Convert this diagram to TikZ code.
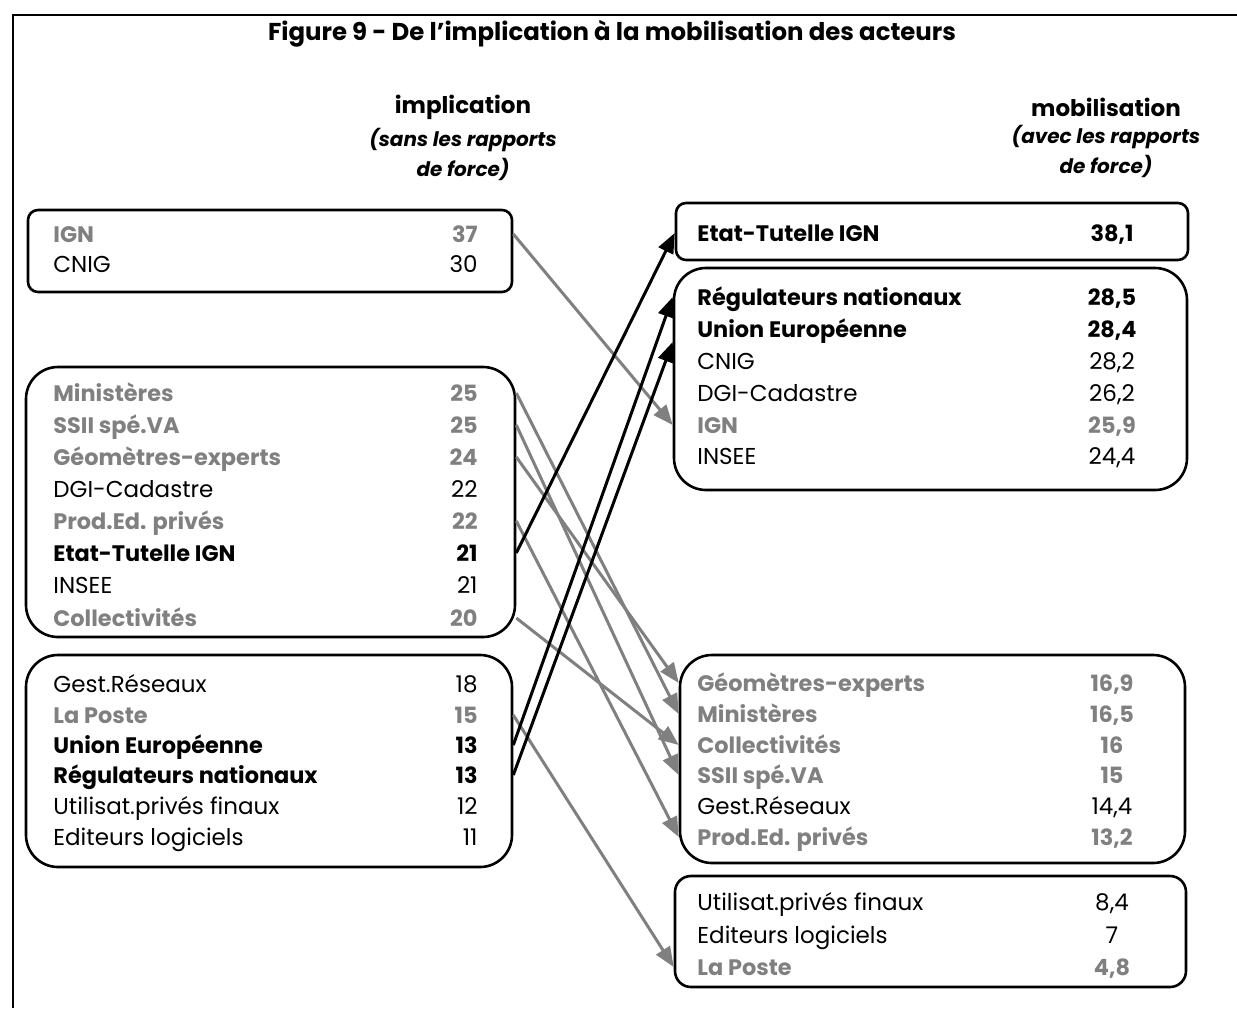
\documentclass[tikz,border=0pt]{standalone}
\usepackage{fontspec}
\setmainfont{Poppins}
\usetikzlibrary{arrows.meta,positioning,fit}

\definecolor{grisacteur}{gray}{0.5}
\newcommand{\tailleacteur}{\fontsize{11.5}{14}\selectfont}
\newcommand{\taillefort}{\fontsize{11.2}{14}\selectfont\bfseries}

\tikzset{
  lbl/.style = {anchor=west, inner sep=0pt, text height=8pt, text depth=0pt},
  numg/.style = {anchor=east, inner sep=0pt, text height=8pt, text depth=0pt},
  numd/.style = {anchor=center, inner sep=0pt, text height=8pt, text depth=0pt},
  std/.style = {font=\tailleacteur},
  fort/.style = {font=\taillefort},
  gris/.style = {font=\taillefort, text=grisacteur},
  groupe/.style = {draw, line width=1.3pt, inner sep=0pt, rounded corners=#1},
  garrow/.style = {draw=grisacteur, line width=1.5pt, -{Triangle[length=10pt,width=8pt]}},
  barrow/.style = {draw=black, line width=1.5pt, -{Triangle[length=10pt,width=8pt]}},
  entete/.style = {font=\fontsize{11.5}{14}\selectfont\bfseries, inner sep=0pt},
  soustitre/.style = {font=\fontsize{10}{15}\selectfont\bfseries\itshape, inner sep=0pt, align=center}
}

% name, y, style, label, value
\newcommand{\acteurG}[5]{%
  \node[lbl,#3] (#1) at (53,#2) {#4};
  \node[numg,#3] (#1v) at (478,#2) {#5};}
\newcommand{\acteurD}[5]{%
  \node[lbl,#3] (#1) at (697,#2) {#4};
  \node[numd,#3] (#1v) at (1112,#2) {#5};}

\begin{document}
\begin{tikzpicture}[x=0.5pt, y=-0.5pt]
\useasboundingbox (0,0) rectangle (1237,1008);
\draw[line width=1.3pt] (13,1008) -- (13,15) -- (1237,15);

\node[font=\fontsize{12.2}{15}\selectfont\bfseries, inner sep=0pt] (titre) at (612,34) {Figure 9 - De l'implication à la mobilisation des acteurs};

\node[entete] (impl) at (463,107) {implication};
\node[soustitre, below=4pt of impl] (implsub) {(sans les rapports\\de force)};
\node[entete] (mobi) at (1106,107) {mobilisation};
\node[soustitre, below=4pt of mobi] (mobisub) {(avec les rapports\\de force)};

% implication
\acteurG{lign}{234}{gris}{IGN}{37}
\acteurG{lcnig}{264}{std}{CNIG}{30}
\acteurG{lmin}{393}{gris}{Ministères}{25}
\acteurG{lssii}{425}{gris}{SSII spé.VA}{25}
\acteurG{lgeo}{457}{gris}{Géomètres-experts}{24}
\acteurG{ldgi}{489}{std}{DGI-Cadastre}{22}
\acteurG{lprod}{521}{gris}{Prod.Ed. privés}{22}
\acteurG{letat}{553}{fort}{Etat-Tutelle IGN}{21}
\acteurG{linsee}{585}{std}{INSEE}{21}
\acteurG{lcoll}{618}{gris}{Collectivités}{20}
\acteurG{lgest}{684}{std}{Gest.Réseaux}{18}
\acteurG{lposte}{715}{gris}{La Poste}{15}
\acteurG{lue}{745}{fort}{Union Européenne}{13}
\acteurG{lrn}{775}{fort}{Régulateurs nationaux}{13}
\acteurG{lutil}{806}{std}{Utilisat.privés finaux}{12}
\acteurG{ledit}{837}{std}{Editeurs logiciels}{11}

% mobilisation
\acteurD{retat}{233}{fort}{Etat-Tutelle IGN}{38,1}
\acteurD{rrn}{297}{fort}{Régulateurs nationaux}{28,5}
\acteurD{rue}{329}{fort}{Union Européenne}{28,4}
\acteurD{rcnig}{361}{std}{CNIG}{28,2}
\acteurD{rdgi}{393}{std}{DGI-Cadastre}{26,2}
\acteurD{rign}{425}{gris}{IGN}{25,9}
\acteurD{rinsee}{456}{std}{INSEE}{24,4}
\acteurD{rgeo}{683}{gris}{Géomètres-experts}{16,9}
\acteurD{rmin}{714}{gris}{Ministères}{16,5}
\acteurD{rcoll}{745}{gris}{Collectivités}{16}
\acteurD{rssii}{775}{gris}{SSII spé.VA}{15}
\acteurD{rgest}{806}{std}{Gest.Réseaux}{14,4}
\acteurD{rprod}{837}{gris}{Prod.Ed. privés}{13,2}
\acteurD{rutil}{902}{std}{Utilisat.privés finaux}{8,4}
\acteurD{redit}{935}{std}{Editeurs logiciels}{7}
\acteurD{rposte}{967}{gris}{La Poste}{4,8}

% groupes
\node[groupe=5pt, fit={(28,210) (512,292)}] (bl1) {};
\node[groupe=16pt, fit={(26,367) (515,637)}] (bl2) {};
\node[groupe=16pt, fit={(26,655) (512,867)}] (bl3) {};
\node[groupe=5pt, fit={(676,203) (1188,260)}] (br1) {};
\node[groupe=16pt, fit={(674,268) (1187,490)}] (br2) {};
\node[groupe=16pt, fit={(680,655) (1185,863)}] (br3) {};
\node[groupe=8pt, fit={(675,876) (1186,987)}] (br4) {};

% fleches
\draw[garrow] (bl1.east |- lign) -- (br2.west |- rign);
\draw[garrow] (bl2.east |- lmin) -- (br3.west |- rmin);
\draw[garrow] (bl2.east |- lssii) -- (br3.west |- rssii);
\draw[garrow] (bl2.east |- lgeo) -- (br3.west |- rgeo);
\draw[garrow] (bl2.east |- lprod) -- (br3.west |- rprod);
\draw[garrow] (bl2.east |- lcoll) -- (br3.west |- rcoll);
\draw[garrow] (bl3.east |- lposte) -- (br4.west |- rposte);
\draw[barrow] (bl2.east |- letat) -- (br1.west |- retat);
\draw[barrow] (bl3.east |- lue) -- (br2.west |- rrn);
\draw[barrow] (bl3.east |- lrn) -- ([yshift=-6.5pt]br2.west |- rue);
\end{tikzpicture}
\end{document}
